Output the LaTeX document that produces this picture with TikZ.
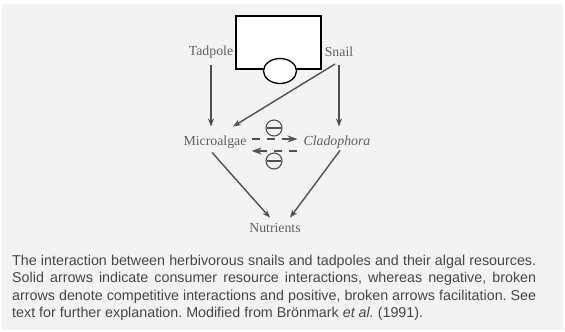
\documentclass[tikz,border=0pt]{standalone}
\usepackage{fontspec}
\setmainfont{Liberation Serif}
\newfontfamily\capfont{Liberation Sans}
\usetikzlibrary{arrows.meta,calc}
\definecolor{bg}{RGB}{243,243,243}
\definecolor{ink}{RGB}{80,80,80}
\definecolor{txt}{RGB}{95,95,95}
\definecolor{captxt}{RGB}{70,70,70}
\begin{document}
\frenchspacing
\begin{tikzpicture}[x=1pt,y=-1pt,
  lbl/.style={font=\fontsize{13.8}{15}\selectfont, text=txt, inner sep=2pt},
  cons/.style={draw=ink, line width=1.4pt, -{Stealth[length=8pt,width=6pt]}},
  comp/.style={draw=ink, line width=1.6pt, dash pattern=on 8pt off 7pt, -{Stealth[length=10pt,width=7pt]}},
  neg/.style={circle, draw=ink, line width=1.1pt, minimum size=16pt, inner sep=0pt},
  negbar/.style={draw=ink, line width=1.1pt},
  mask/.style={draw=black, fill=white, line width=1.3pt},
  captext/.style={anchor=north west, inner sep=0pt, text width=524pt, align=justify, text=captxt, font=\capfont\fontsize{14.3}{17.4}\selectfont}]
\fill[white] (0,0) rectangle (565,332);
\fill[bg] (2,4) rectangle (563,330);
\useasboundingbox (0,0) rectangle (565,332);

\node[lbl] (tad) at (211,52) {Tadpole};
\node[lbl] (snail) at (339,52) {Snail};
\node[lbl] (micro) at (215,142) {Microalgae};
\node[lbl] (clad) at (337,142) {\itshape Cladophora};
\node[lbl] (nut) at (275,228) {Nutrients};

\node[neg] (n1) at (274,128) {};
\draw[negbar] ($(n1.west)+(1.5,0)$) -- ($(n1.east)+(-1.5,0)$);
\node[neg] (n2) at (274,161) {};
\draw[negbar] ($(n2.west)+(1.5,0)$) -- ($(n2.east)+(-1.5,0)$);

\draw[cons, shorten <=5pt, shorten >=7pt] (tad.south) -- (tad.south |- micro.north);
\draw[cons, shorten <=6pt, shorten >=7pt] (snail.south) -- (snail.south |- clad.north);
\draw[cons] ($(snail.south)+(-4,5)$) -- ($(micro.north)+(18,-7)$);
\draw[cons] ($(micro.south)+(-3,2)$) -- ($(nut.north)+(-5,-3.5)$);
\draw[cons] ($(clad.south)+(3,0)$) -- ($(nut.north)+(15,-3.5)$);

\draw[comp] ($(micro.east)+(3,-3)$) -- ($(clad.west)+(-4,-3)$);
\draw[comp] ($(clad.west)+(-4,9)$) -- ($(micro.east)+(3,9)$);

\draw[mask] (236,16) rectangle (321,69);
\draw[mask] (280,71) ellipse [x radius=16.5, y radius=12.5];

\node[captext] (cap) at (12,255) {The interaction between herbivorous snails and tadpoles and their algal resources.\linebreak
Solid arrows indicate consumer resource interactions, whereas negative, broken\linebreak
arrows denote competitive interactions and positive, broken arrows facilitation. See\linebreak
text for further explanation. Modified from Brönmark \textit{et al.} (1991).};
\end{tikzpicture}
\end{document}
